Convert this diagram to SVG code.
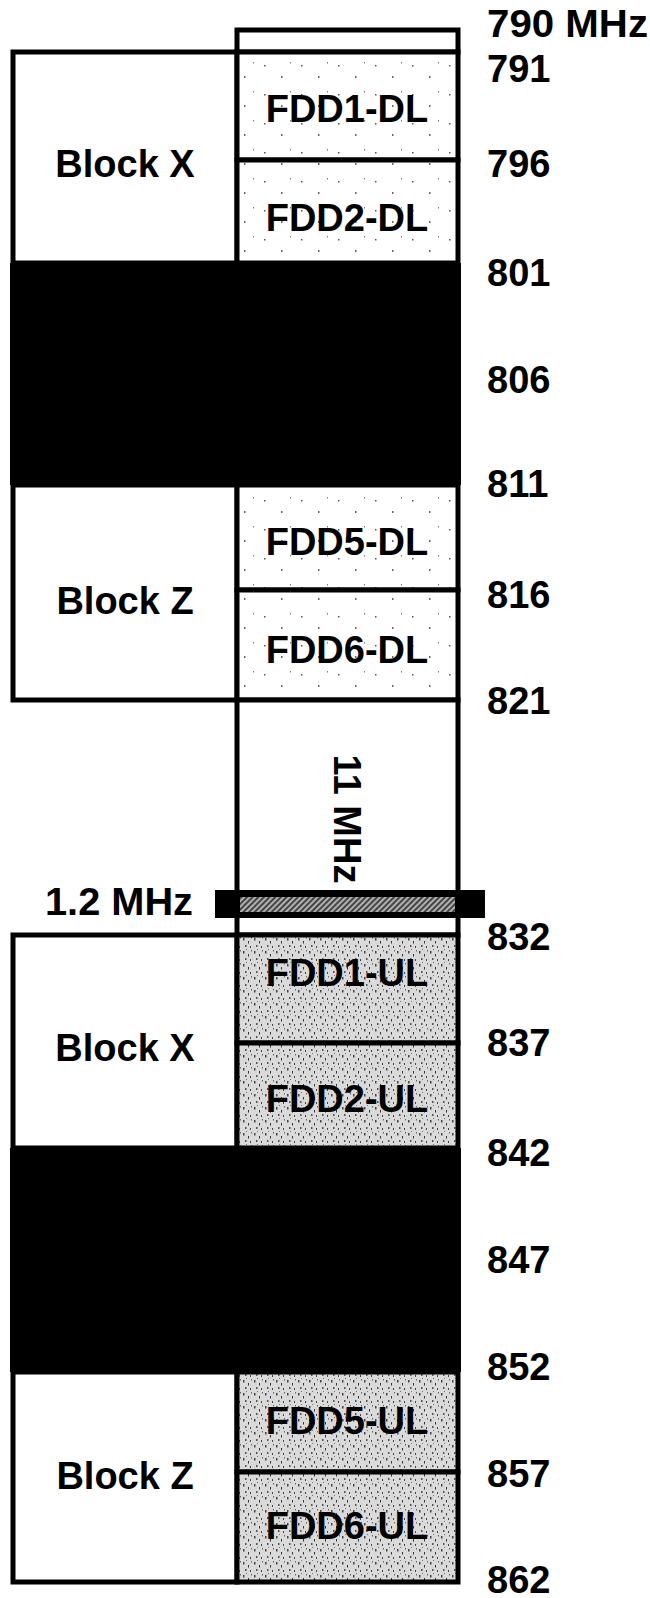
<svg xmlns="http://www.w3.org/2000/svg" width="650" height="1598" viewBox="0 0 650 1598">
<style>
.b{fill:#fff;stroke:#000;stroke-width:5}
.dl{fill:url(#dlp);stroke:#000;stroke-width:5}
.ul{fill:url(#ulp);stroke:#000;stroke-width:5}
.blk{fill:#000}
.t{font-family:"Liberation Sans",Arial,sans-serif;font-weight:bold;font-size:38px;fill:#000}
.m{text-anchor:middle}
</style>
<defs>
<pattern id="dlp" width="37" height="29" patternUnits="userSpaceOnUse">
<rect width="37" height="29" fill="#fff"/>
<rect x="5" y="7" width="1.5" height="1.5" fill="#555"/>
<rect x="22" y="18" width="1.5" height="2" fill="#666"/>
<rect x="31" y="4" width="1" height="1.5" fill="#777"/>
</pattern>
<pattern id="ulp" width="11" height="13" patternUnits="userSpaceOnUse">
<rect width="11" height="13" fill="#dadada"/>
<rect x="1" y="2" width="1.5" height="2.5" fill="#444"/>
<rect x="6" y="5" width="1" height="2.5" fill="#333"/>
<rect x="3" y="9" width="1.5" height="2" fill="#555"/>
<rect x="8" y="10" width="1" height="2" fill="#444"/>
<rect x="9" y="1" width="1" height="1.5" fill="#666"/>
<rect x="4" y="0" width="1" height="1" fill="#777"/>
</pattern>
<pattern id="hatch" width="4" height="4" patternUnits="userSpaceOnUse" patternTransform="rotate(45)">
<rect width="4" height="4" fill="#b0b0b0"/>
<rect width="2" height="4" fill="#444"/>
</pattern>
</defs>

<g id="top-790">
<rect class="b" x="237" y="30" width="221" height="22"/>
</g>

<g id="block-x-dl">
<rect class="b" x="13" y="52" width="224" height="211"/>
<text class="t m" x="125" y="177">Block X</text>
</g>
<g id="fdd1-dl">
<rect class="dl" x="237" y="52" width="221" height="108"/>
<text class="t m" x="347" y="122">FDD1-DL</text>
</g>
<g id="fdd2-dl">
<rect class="dl" x="237" y="160" width="221" height="103"/>
<text class="t m" x="347" y="231">FDD2-DL</text>
</g>

<g id="black-dl">
<rect class="blk" x="10" y="263" width="451" height="222"/>
</g>

<g id="block-z-dl">
<rect class="b" x="13" y="485" width="224" height="215"/>
<text class="t m" x="125" y="614">Block Z</text>
</g>
<g id="fdd5-dl">
<rect class="dl" x="237" y="485" width="221" height="105"/>
<text class="t m" x="347" y="555">FDD5-DL</text>
</g>
<g id="fdd6-dl">
<rect class="dl" x="237" y="590" width="221" height="110"/>
<text class="t m" x="347" y="663">FDD6-DL</text>
</g>

<g id="gap-11mhz">
<rect class="b" x="237" y="700" width="221" height="235"/>
<text class="t m" x="0" y="0" transform="translate(334 819) rotate(90)">11 MHz</text>
</g>

<g id="guard-1-2mhz">
<rect class="blk" x="215" y="890" width="270" height="28"/>
<rect x="240" y="897" width="215" height="15" fill="url(#hatch)"/>
<text class="t" x="45" y="915" textLength="148" lengthAdjust="spacingAndGlyphs">1.2 MHz</text>
</g>

<g id="block-x-ul">
<rect class="b" x="13" y="935" width="224" height="213"/>
<text class="t m" x="125" y="1061">Block X</text>
</g>
<g id="fdd1-ul">
<rect class="ul" x="237" y="935" width="221" height="108"/>
<text class="t m" x="347" y="986">FDD1-UL</text>
</g>
<g id="fdd2-ul">
<rect class="ul" x="237" y="1043" width="221" height="105"/>
<text class="t m" x="347" y="1112">FDD2-UL</text>
</g>

<g id="black-ul">
<rect class="blk" x="10" y="1148" width="451" height="224"/>
</g>

<g id="block-z-ul">
<rect class="b" x="13" y="1372" width="224" height="210"/>
<text class="t m" x="125" y="1489">Block Z</text>
</g>
<g id="fdd5-ul">
<rect class="ul" x="237" y="1372" width="221" height="100"/>
<text class="t m" x="347" y="1434">FDD5-UL</text>
</g>
<g id="fdd6-ul">
<rect class="ul" x="237" y="1472" width="221" height="110"/>
<text class="t m" x="347" y="1539">FDD6-UL</text>
</g>

<g id="freq-labels">
<text class="t" x="487" y="37" textLength="161" lengthAdjust="spacingAndGlyphs">790 MHz</text>
<text class="t" x="487" y="82">791</text>
<text class="t" x="487" y="177">796</text>
<text class="t" x="487" y="286">801</text>
<text class="t" x="487" y="393">806</text>
<text class="t" x="487" y="497">811</text>
<text class="t" x="487" y="608">816</text>
<text class="t" x="487" y="714">821</text>
<text class="t" x="487" y="950">832</text>
<text class="t" x="487" y="1056">837</text>
<text class="t" x="487" y="1166">842</text>
<text class="t" x="487" y="1273">847</text>
<text class="t" x="487" y="1380">852</text>
<text class="t" x="487" y="1487">857</text>
<text class="t" x="487" y="1593">862</text>
</g>
</svg>
